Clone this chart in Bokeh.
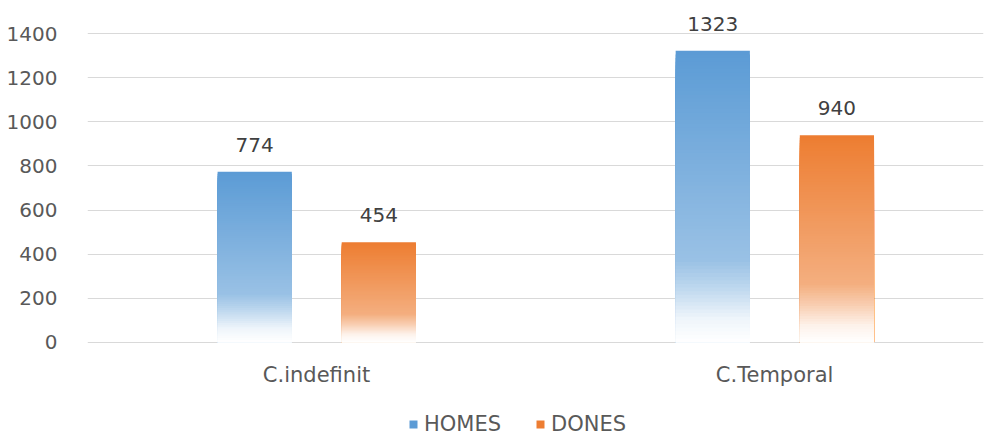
from bokeh.plotting import figure
from bokeh.models import Range1d, FixedTicker, ColumnDataSource, Legend, LegendItem
from bokeh.core.properties import value
from bokeh.embed import file_html
from bokeh.resources import INLINE

# ---- data ----
categories = ["C.indefinit", "C.Temporal"]
series_names = ["HOMES", "DONES"]
homes = [774, 1323]
dones = [454, 940]
y_ticks = [0, 200, 400, 600, 800, 1000, 1200, 1400]

# ---- style ----
base_colors = ["#5B9BD5", "#ED7D31"]
offsets = [-0.135, 0.136]
bar_w = 0.162
FONT = "DejaVu Sans"
TXT = "#595959"
# white fraction along bar height (t=0 bottom, t=1 top)
stops = [(0.0, 1.0), (0.08, 0.9), (0.18, 0.62), (0.28, 0.38), (1.0, 0.0)]
N = 80


def white_frac(t):
    for (t0, w0), (t1, w1) in zip(stops[:-1], stops[1:]):
        if t0 <= t <= t1:
            return w0 + (w1 - w0) * (t - t0) / (t1 - t0)
    return 0.0


def mix(hexc, w):
    r, g, b = (int(hexc[i:i + 2], 16) for i in (1, 3, 5))
    r = round(r + (255 - r) * w)
    g = round(g + (255 - g) * w)
    b = round(b + (255 - b) * w)
    return "#%02x%02x%02x" % (r, g, b)


p = figure(width=994, height=439, output_backend="svg", toolbar_location=None,
           x_range=Range1d(-0.5, 1.456), y_range=Range1d(-441.7, 1505.8),
           min_border_left=87, min_border_right=11, min_border_top=10,
           min_border_bottom=0)
p.outline_line_color = None
p.background_fill_color = "white"
p.border_fill_color = "white"

items = []
for s, (name, vals, col, off) in enumerate(zip(series_names, [homes, dones], base_colors, offsets)):
    xs, tops, cols = [], [], []
    for k in range(N, 0, -1):
        t = k / N
        c = mix(col, white_frac(t - 0.5 / N))
        for i, v in enumerate(vals):
            xs.append(i + off)
            tops.append(v * t)
            cols.append(c)
    src = ColumnDataSource(dict(x=xs, top=tops, color=cols))
    r = p.vbar(x="x", top="top", bottom=0, width=bar_w, fill_color="color",
               line_color=None, source=src)
    items.append(LegendItem(label=name, renderers=[r], index=0))
    lab = ColumnDataSource(dict(x=[i + off for i in range(len(vals))], y=vals,
                                t=[str(v) for v in vals]))
    p.text(x="x", y="y", text="t", source=lab, text_align="center",
           text_baseline="middle", y_offset=-27, text_font=value(FONT),
           text_font_size="20px", text_color="#404040")

# category labels (drawn under the zero line through the x scale)
cat_src = ColumnDataSource(dict(x=list(range(len(categories))),
                                y=[0] * len(categories), t=categories))
p.text(x="x", y="y", text="t", source=cat_src, text_align="center",
       text_baseline="middle", y_offset=33, text_font=value(FONT),
       text_font_size="21px", text_color=TXT)

# axes
p.xaxis.visible = False
p.yaxis.ticker = FixedTicker(ticks=y_ticks)
p.yaxis.axis_line_color = None
p.yaxis.major_tick_line_color = None
p.yaxis.minor_tick_line_color = None
p.yaxis.major_label_text_font = FONT
p.yaxis.major_label_text_color = TXT
p.yaxis.major_label_text_font_size = "20px"
p.yaxis.major_label_standoff = 24

p.xgrid.grid_line_color = None
p.ygrid.ticker = FixedTicker(ticks=y_ticks)
p.ygrid.grid_line_color = "#D9D9D9"
p.ygrid.grid_line_width = 1

legend = Legend(items=items, location=(321, 3), orientation="horizontal",
                glyph_width=10, glyph_height=10, label_standoff=6, spacing=34,
                padding=2, margin=0, border_line_color=None,
                background_fill_alpha=0, label_text_font=FONT,
                label_text_font_size="21px", label_text_color=TXT)
p.add_layout(legend)

open("out.html", "w").write(file_html(p, INLINE))
